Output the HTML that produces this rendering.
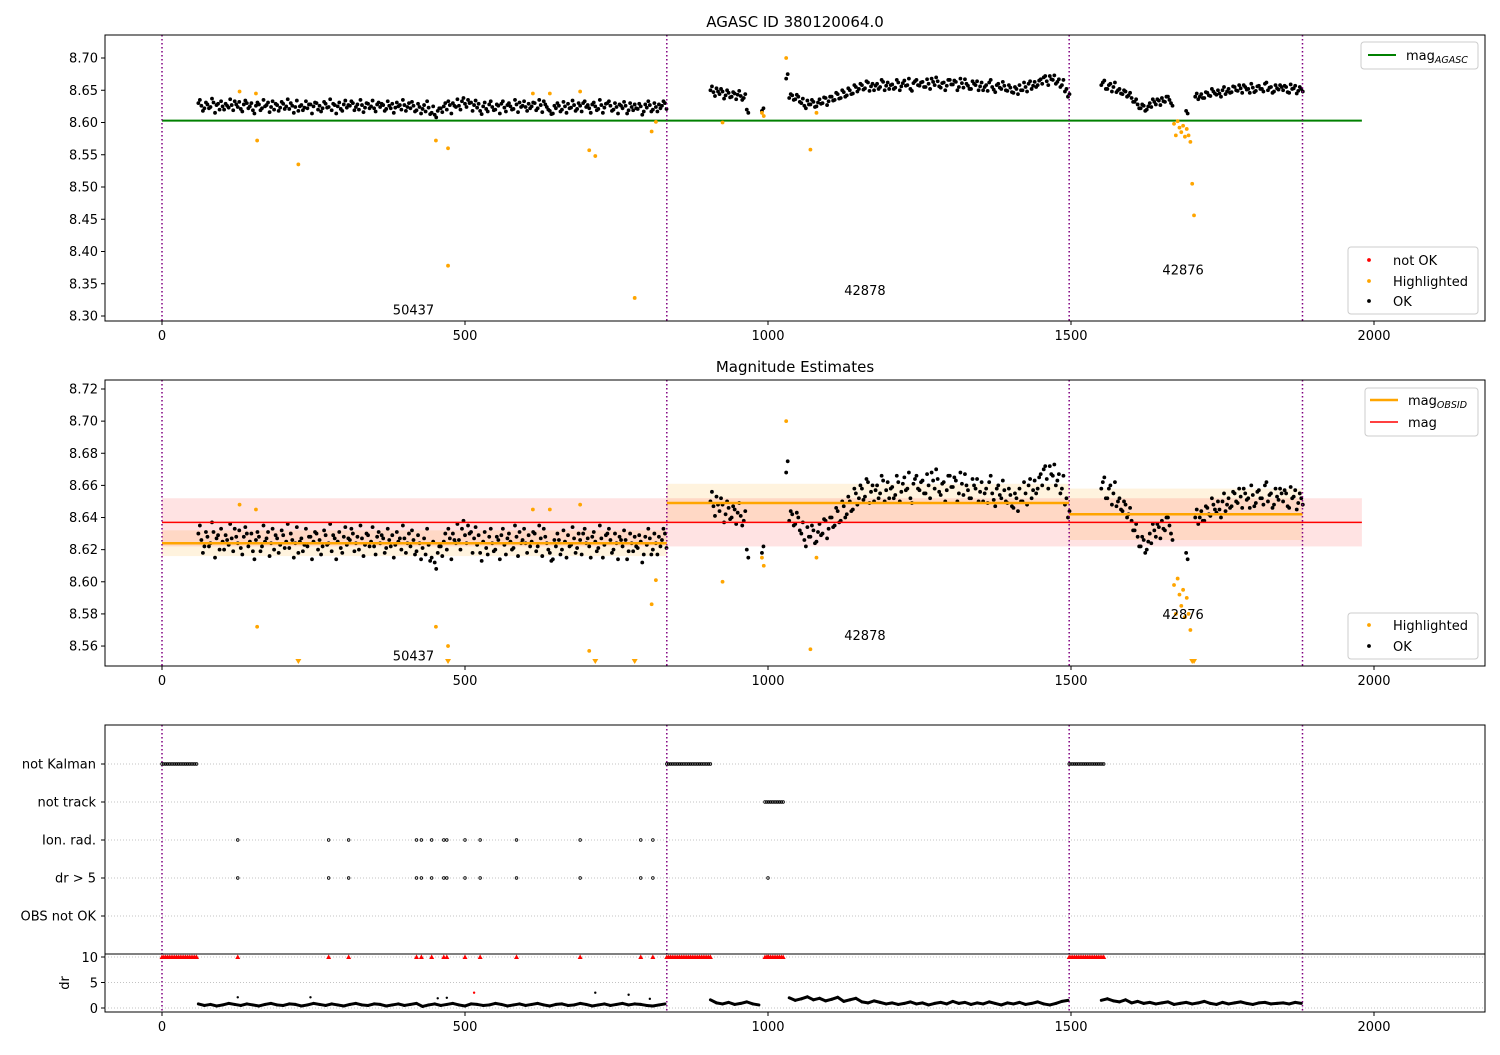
<!DOCTYPE html>
<html><head><meta charset="utf-8"><style>
body{margin:0;background:#fff}
svg{font-family:"DejaVu Sans","Liberation Sans",sans-serif;font-size:13px}
</style></head><body>
<svg id="c" width="1500" height="1050" xmlns="http://www.w3.org/2000/svg">
<defs>
<clipPath id="cp1"><rect x="105" y="35" width="1380" height="286"/></clipPath>
<clipPath id="cp2"><rect x="105" y="380" width="1380" height="286"/></clipPath>
</defs>
<text x="795" y="27" text-anchor="middle" font-size="15">AGASC ID 380120064.0</text>
<text x="795" y="372" text-anchor="middle" font-size="15">Magnitude Estimates</text>
<g id="g"></g>
</svg>
<script>
const seg1Start=60, seg2Start=905, seg3Start=1550, step=5, offB=2.5;
const seg1=[30,26,22,28,24,31,27,20,25,29,23,27,33,24,21,28,30,25,19,26,28,22,25,31,24,20,27,23,29,25,21,26,24,18,27,23,22,28,25,30,26,22,29,24,19,27,25,21,28,23,26,30,24,20,27,23,29,25,22,28,24,27,21,26,29,23,25,20,27,24,22,26,19,24,21,17,23,15,12,18,22,25,20,27,30,24,26,33,29,35,31,27,23,18,25,21,28,24,20,26,29,23,27,25,21,28,31,26,24,29,25,30,22,27,33,24,18,14,22,26,20,25,29,23,27,21,26,30,24,22,28,25,21,27,23,30,26,20,24,28,22,26,19,24,28,21,25,17,23,27,20,24,28,26,30];
const seg1b=[35,18,31,22,37,15,29,33,20,26,36,19,28,32,17,34,22,30,14,31,19,35,27,16,33,29,18,32,21,36,30,15,34,25,19,33,28,14,31,20,17,32,23,36,29,14,31,18,34,27,33,19,28,35,16,30,22,34,17,31,29,18,33,22,15,31,27,35,18,30,32,17,29,14,27,33,13,25,8,22,16,30,33,14,26,36,20,38,24,30,18,34,29,13,31,17,33,19,28,14,33,17,30,20,35,16,24,33,18,22,31,19,35,16,28,20,13,26,30,17,32,15,22,34,18,30,17,33,27,15,31,19,35,15,29,33,18,30,14,26,32,14,30,19,22,29,12,28,33,17,30,17,22,33,21];
const seg2=[50,47,53,44,48,42,46,40,45,43,41,38,20,null,null,null,null,18,null,null,null,null,null,null,null,68,38,42,36,40,30,26,34,28,32,25,36,30,38,33,40,35,44,38,47,42,50,45,55,52,58,53,62,56,50,60,55,63,57,52,59,54,62,56,65,58,52,61,66,57,63,55,60,68,58,64,54,62,57,66,59,63,55,61,67,57,52,60,64,56,50,58,62,55,47,60,52,57,49,54,46,52,58,50,55,60,52,63,58,67,70,64,72,66,60,67,58,48,40];
const seg2b=[56,41,48,52,37,50,39,47,36,49,35,44,15,null,null,null,null,22,null,null,null,null,null,null,null,75,44,35,43,32,37,22,28,35,24,31,29,39,27,40,34,46,37,50,40,53,44,58,48,60,51,64,49,60,57,52,66,50,62,58,52,66,50,61,57,68,49,64,58,62,55,67,52,63,70,56,61,50,66,59,65,50,68,54,60,52,64,58,50,62,55,49,66,51,58,54,63,50,58,47,55,44,50,62,48,64,57,55,65,60,72,58,67,73,63,55,66,52,44];
const seg3=[58,65,52,60,55,47,52,44,48,42,38,32,28,22,26,20,30,36,28,34,38,32,40,30,null,null,null,null,18,null,null,40,36,44,38,46,41,48,43,45,50,44,52,47,55,49,53,58,51,46,54,49,57,52,60,50,55,48,53,58,50,55,46,52,57,49,52];
const seg3b=[62,52,58,48,62,50,45,50,40,46,32,36,22,28,18,25,24,32,36,27,33,40,35,26,null,null,null,null,14,null,null,45,40,38,47,42,52,45,50,40,55,48,46,56,50,58,46,55,52,60,47,56,52,48,62,54,46,58,51,55,57,47,59,53,45,55,48];
const hlT=[128,155,157,225,452,472,472,612,640,690,705,715,780,808,815,925,990,993,1030,1070,1080,1670,1673,1676,1679,1682,1685,1688,1691,1694,1697,1700,1703];
const hlV=[8.648,8.645,8.572,8.535,8.572,8.56,8.378,8.645,8.645,8.648,8.557,8.548,8.328,8.586,8.601,8.60,8.615,8.61,8.70,8.558,8.615,8.598,8.580,8.602,8.592,8.585,8.595,8.578,8.590,8.58,8.57,8.505,8.456];
const magAgasc=8.603, magAll=8.637, magAllErr=0.015;
const obsStart=[0,833,1497], obsEnd=[833,1497,1882], obsMag=[8.624,8.649,8.642], obsErr=[0.008,0.012,0.016];
const obsLines=[0,833,1497,1882];
const obsIds=["50437","42878","42876"];
const obsLabelT=[415,1160,1685], obsLabelV1=[8.31,8.34,8.372], obsLabelV2=[8.554,8.567,8.58];
const drStep=10;
const dr1=[0.8,0.5,0.7,0.4,0.6,0.9,0.7,0.5,0.8,0.6,0.4,0.7,0.9,0.6,0.5,0.8,0.7,0.4,0.6,0.9,0.7,0.5,0.8,0.6,0.4,0.7,0.9,0.6,0.5,0.8,0.7,0.4,0.6,0.8,0.5,0.7,0.9,0.3,0.6,0.8,0.5,0.7,0.9,0.6,0.4,0.8,0.7,0.5,0.6,0.9,0.7,0.4,0.6,0.8,0.5,0.7,0.9,0.6,0.4,0.7,0.8,0.5,0.6,0.9,0.7,0.4,0.6,0.8,0.5,0.7,0.9,0.6,0.8,0.7,0.5,0.4,0.6,0.8];
const dr2=[1.6,1.0,0.8,1.1,0.7,0.9,1.2,0.8,0.6,null,null,null,null,2.0,1.5,1.8,2.2,1.6,1.9,1.4,1.7,2.1,1.3,1.6,1.9,1.2,1.0,1.4,1.1,0.8,1.0,0.7,0.9,1.2,0.8,1.0,0.6,0.9,1.1,0.8,1.3,0.9,1.1,0.7,1.0,0.8,1.2,0.9,0.6,1.0,0.8,1.1,0.7,0.9,1.2,0.8,0.6,0.9,1.3,1.5];
const dr3=[1.5,1.8,1.4,1.2,1.6,1.0,1.3,0.9,1.1,0.8,1.0,1.2,0.7,0.9,1.1,0.8,1.0,1.3,0.9,0.7,1.1,0.8,1.0,1.2,0.9,0.7,1.0,1.1,0.8,0.9,1.0,0.8,1.1,0.9];
const drExtraT=[125,245,455,470,715,770,805], drExtraV=[2.1,2.1,1.9,2.0,3.0,2.6,1.8];
const drBadT=[515], drBadV=[3.0];
const kalmanStart=[0,833,1497], kalmanEnd=[57,905,1555];
const trackStart=[995], trackEnd=[1025];
const ionT=[125,275,308,420,428,445,465,470,500,525,585,690,790,810];
const drGt5T=[125,275,308,420,428,445,465,470,500,525,585,690,790,810,1000];
const flagCats=["not Kalman","not track","Ion. rad.","dr > 5","OBS not OK"];
const y1Ticks=[8.30,8.35,8.40,8.45,8.50,8.55,8.60,8.65,8.70];
const y2Ticks=[8.56,8.58,8.60,8.62,8.64,8.66,8.68,8.70,8.72];
const xTicks=[0,500,1000,1500,2000];
const drTicks=[0,5,10];

const NS="http://www.w3.org/2000/svg";
const G=document.getElementById('g');
function el(tag,attrs,parent){const e=document.createElementNS(NS,tag);for(const k in attrs)e.setAttribute(k,attrs[k]);(parent||G).appendChild(e);return e;}
const xs=t=>162+t*0.606;
const y1=v=>58+(8.70-v)*645;
const y2=v=>389+(8.72-v)*1606.5;
const yRow=i=>764+38*i;
const ydr=v=>1008-v*5.1;

const p1=el('g',{'clip-path':'url(#cp1)'});


const p2=el('g',{'clip-path':'url(#cp2)'});



function forSegments(cb){
  [[seg1,seg1Start],[seg2,seg2Start],[seg3,seg3Start],[seg1b,seg1Start+offB],[seg2b,seg2Start+offB],[seg3b,seg3Start+offB]].forEach(([arr,s])=>arr.forEach((v,i)=>{if(v!==null)cb(s+i*step,8.6+v/1000);}));
}
for(let i=0;i<obsStart.length;i++){
  const r=el('rect',{x:xs(obsStart[i]),y:y2(obsMag[i]+obsErr[i]),width:xs(obsEnd[i])-xs(obsStart[i]),height:y2(obsMag[i]-obsErr[i])-y2(obsMag[i]+obsErr[i]),fill:'orange','fill-opacity':0.13},p2);
  
  
}
const rb=el('rect',{x:xs(0),y:y2(magAll+magAllErr),width:xs(1980)-xs(0),height:y2(magAll-magAllErr)-y2(magAll+magAllErr),fill:'red','fill-opacity':0.11},p2);



function vlines(y0,yb){obsLines.forEach(t=>{const l=el('line',{x1:xs(t),x2:xs(t),y1:y0,y2:yb,stroke:'purple','stroke-width':1.5,'stroke-dasharray':'1.5,2.5'});

});}
vlines(35,321);vlines(380,666);vlines(725,1012);

const gl=el('line',{x1:xs(0),x2:xs(1980),y1:y1(magAgasc),y2:y1(magAgasc),stroke:'green','stroke-width':2},p1);



forSegments((t,v)=>{
  const a=el('circle',{cx:xs(t),cy:y1(v),r:1.9,fill:'#000'},p1);
  
  
  const b=el('circle',{cx:xs(t),cy:y2(v),r:1.9,fill:'#000'},p2);
  
  
});
hlT.forEach((t,i)=>{
  const v=hlV[i];
  const a=el('circle',{cx:xs(t),cy:y1(v),r:1.9,fill:'orange'},p1);
  
  
  let b;
  if(v<8.549){const x=xs(t),y=663;b=el('path',{d:`M${x-3},${y-4}L${x+3},${y-4}L${x},${y+1}Z`,fill:'orange'},p2);}
  else b=el('circle',{cx:xs(t),cy:y2(v),r:1.9,fill:'orange'},p2);
  
  
});
for(let i=0;i<obsStart.length;i++){
  const l=el('line',{x1:xs(obsStart[i]),x2:xs(obsEnd[i]),y1:y2(obsMag[i]),y2:y2(obsMag[i]),stroke:'orange','stroke-width':2.5},p2);
  
  
}
const rl=el('line',{x1:xs(0),x2:xs(1980),y1:y2(magAll),y2:y2(magAll),stroke:'red','stroke-width':1.5},p2);



obsIds.forEach((s,i)=>{
  const a=el('text',{x:xs(obsLabelT[i]),y:y1(obsLabelV1[i])+5,'text-anchor':'middle'});a.textContent=s;
  
  
  const b=el('text',{x:xs(obsLabelT[i]),y:y2(obsLabelV2[i])+5,'text-anchor':'middle'});b.textContent=s;
  
  
});

function frame(x,y,w,h,name){const r=el('rect',{x:x,y:y,width:w,height:h,fill:'none',stroke:'#000','stroke-width':1});

}
frame(105,35,1380,286,'top-axes-frame');
frame(105,380,1380,286,'middle-axes-frame');
frame(105,725,1380,229,'flags-axes-frame');
frame(105,954,1380,58,'dr-axes-frame');

function yTicks(ticks,f,dec){ticks.forEach(v=>{const y=f(v);el('line',{x1:101,x2:105,y1:y,y2:y,stroke:'#000'});
const t=el('text',{x:98,y:y+4.5,'text-anchor':'end'});t.textContent=v.toFixed(dec);

});}
yTicks(y1Ticks,y1,2);yTicks(y2Ticks,y2,2);
function xTk(yb){xTicks.forEach(v=>{const x=xs(v);el('line',{x1:x,x2:x,y1:yb,y2:yb+4,stroke:'#000'});
const t=el('text',{x:x,y:yb+19,'text-anchor':'middle'});t.textContent=v;

});}
xTk(321);xTk(666);xTk(1012);

flagCats.forEach((c,i)=>{const y=yRow(i);
el('line',{x1:105,x2:1485,y1:y,y2:y,stroke:'#b0b0b0','stroke-dasharray':'1,2','stroke-width':0.8});
el('line',{x1:101,x2:105,y1:y,y2:y,stroke:'#000'});
const t=el('text',{x:96,y:y+4.5,'text-anchor':'end'});t.textContent=c;

});
function flagDot(t,row){const c=el('circle',{cx:xs(t),cy:yRow(row),r:1.3,fill:'none',stroke:'#000','stroke-width':0.8});

}
kalmanStart.forEach((s,i)=>{for(let t=s;t<=kalmanEnd[i];t+=3)flagDot(t,0);});
trackStart.forEach((s,i)=>{for(let t=s;t<=trackEnd[i];t+=3)flagDot(t,1);});
ionT.forEach(t=>flagDot(t,2));
drGt5T.forEach(t=>flagDot(t,3));

drTicks.forEach(v=>{const y=ydr(v);
el('line',{x1:105,x2:1485,y1:y,y2:y,stroke:'#b0b0b0','stroke-dasharray':'1,2','stroke-width':0.8});
el('line',{x1:101,x2:105,y1:y,y2:y,stroke:'#000'});
const t=el('text',{x:98,y:y+5,'text-anchor':'end'});t.textContent=v;

});
const drl=el('text',{x:0,y:0,'text-anchor':'middle',transform:'translate(69,983) rotate(-90)'});drl.textContent='dr';


function redTri(t){const x=xs(t),y=ydr(10);const p=el('path',{d:`M${x-2.5},${y+2}L${x+2.5},${y+2}L${x},${y-2.5}Z`,fill:'red'});

}
kalmanStart.forEach((s,i)=>{for(let t=s;t<=kalmanEnd[i];t+=3)redTri(t);});
trackStart.forEach((s,i)=>{for(let t=s;t<=trackEnd[i];t+=3)redTri(t);});
ionT.forEach(redTri);redTri(1000);
[[dr1,seg1Start],[dr2,seg2Start],[dr3,seg3Start]].forEach(([arr,s])=>{
  for(let i=0;i<arr.length-1;i++){
    if(arr[i]!==null&&arr[i+1]!==null){
      const l=el('line',{x1:xs(s+i*drStep),y1:ydr(arr[i]),x2:xs(s+(i+1)*drStep),y2:ydr(arr[i+1]),stroke:'#000','stroke-width':3,'stroke-linecap':'round'});
      
      
    }
  }
});
drExtraT.forEach((t,i)=>{const c=el('circle',{cx:xs(t),cy:ydr(drExtraV[i]),r:1.2,fill:'#000'});

});
drBadT.forEach((t,i)=>{const c=el('circle',{cx:xs(t),cy:ydr(drBadV[i]),r:1.2,fill:'red'});

});

function legendBox(x,y,w,h,name){const r=el('rect',{x:x,y:y,width:w,height:h,rx:3,fill:'#fff','fill-opacity':0.85,stroke:'#ccc'});

}
function legLine(x,y,color,label,sub,lw){el('line',{x1:x,x2:x+28,y1:y,y2:y,stroke:color,'stroke-width':lw});
const t=el('text',{x:x+38,y:y+5});t.textContent=label;


if(sub){const s=el('tspan',{'font-size':'9.5','font-style':'italic',dy:3},t);s.textContent=sub;}}
function legDot(x,y,color,label){el('circle',{cx:x+14,cy:y,r:1.9,fill:color});
const t=el('text',{x:x+38,y:y+5});t.textContent=label;

}
legendBox(1361,42,117,27,'top-legend-mag');legLine(1368,55,'green','mag','AGASC',2);
legendBox(1348,247,130,67,'top-legend-points');legDot(1355,260,'red','not OK');legDot(1355,281,'orange','Highlighted');legDot(1355,301,'#000','OK');
legendBox(1365,388,113,48,'middle-legend-mag');legLine(1370,400,'orange','mag','OBSID',2.5);legLine(1370,422,'red','mag','',1.5);
legendBox(1348,613,130,46,'middle-legend-points');legDot(1355,625,'orange','Highlighted');legDot(1355,646,'#000','OK');
</script>
</body></html>
